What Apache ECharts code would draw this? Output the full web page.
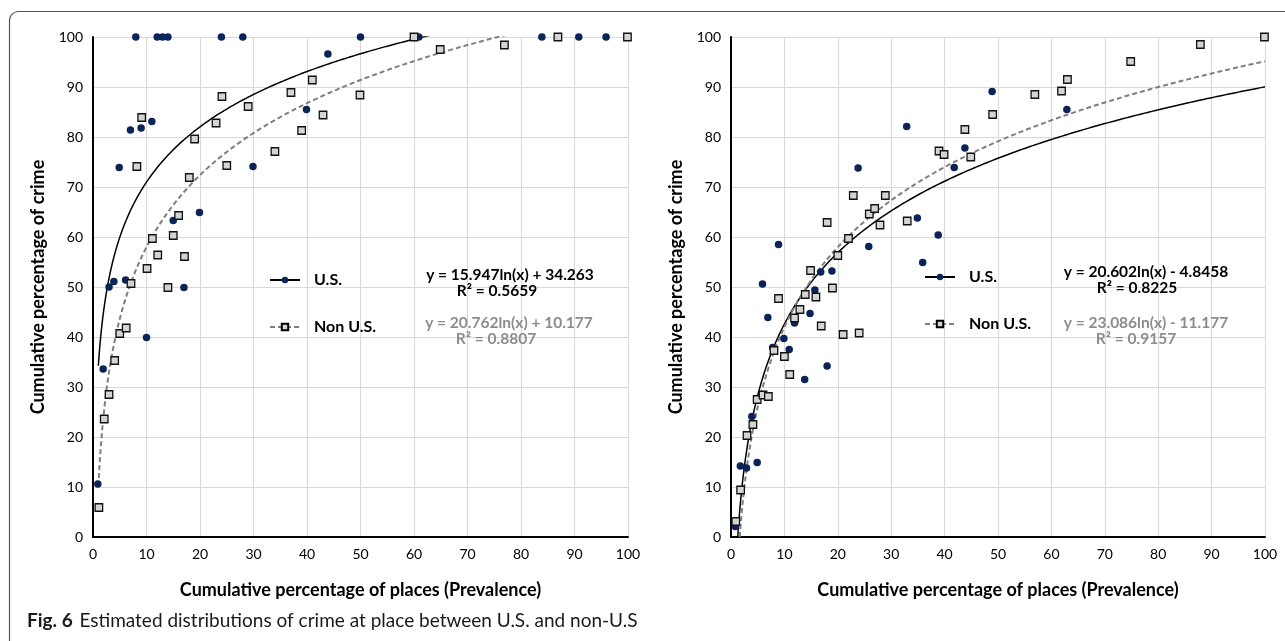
<!DOCTYPE html>
<html><head><meta charset="utf-8">
<script src="https://cdn.jsdelivr.net/npm/echarts@6/dist/echarts.min.js"></script>
<style>html,body{margin:0;padding:0;background:#fff}#c{width:1285px;height:641px}</style>
</head><body><div id="c"></div>
<script>
// ---- tick labels ----
const xTickLabels = ['0','10','20','30','40','50','60','70','80','90','100'];
const yTickLabels = ['0','10','20','30','40','50','60','70','80','90','100'];

// ---- Left panel: U.S. points ----
const leftUsX = [0.9,1.9,3.0,3.9,4.9,6.1,7.0,8.0,9.0,10.0,11.0,12.0,13.0,14.0,15.0,17.0,19.9,24.0,28.0,29.9,39.9,43.9,50.0,60.9,83.9,90.8,95.9];
const leftUsY = [10.6,33.6,50.0,51.1,73.9,51.4,81.4,100,81.8,39.9,83.1,100,100,100,63.3,49.9,64.9,100,100,74.1,85.5,96.6,100,100,100,100,100];
// ---- Left panel: Non U.S. points ----
const leftNonX = [1.1,2.1,3.0,4.05,5.0,6.2,7.1,8.2,9.1,10.1,11.1,12.1,14.0,15.0,16.0,17.1,18.0,19.0,23.0,24.1,25.0,29.0,34.0,37.0,39.0,41.0,43.0,49.9,60.0,64.9,76.9,86.9,99.9];
const leftNonY = [5.9,23.6,28.5,35.3,40.7,41.8,50.7,74.1,83.9,53.7,59.7,56.4,49.9,60.3,64.3,56.1,71.9,79.6,82.8,88.1,74.3,86.1,77.1,88.9,81.3,91.4,84.4,88.4,100,97.5,98.4,100,100];

// ---- Right panel: U.S. points ----
const rightUsX = [0.8,1.75,2.9,3.9,4.9,5.9,6.9,7.8,8.9,9.9,10.9,11.9,13.8,14.8,15.7,16.8,18.0,18.9,23.8,25.8,32.9,34.9,35.9,38.8,41.8,43.8,48.9,62.9];
const rightUsY = [2.1,14.2,13.8,24.1,14.9,50.6,43.9,37.9,58.5,39.7,37.5,42.8,31.5,44.7,49.4,53.0,34.2,53.2,73.8,58.1,82.1,63.8,54.9,60.4,73.9,77.8,89.1,85.5];
// ---- Right panel: Non U.S. points ----
const rightNonX = [0.9,1.8,3.0,4.1,4.9,6.0,7.0,8.05,8.9,10.0,11.0,11.9,12.9,13.9,14.9,15.9,16.9,18.0,19.0,20.0,21.0,22.0,22.9,24.0,25.9,26.9,27.9,28.9,33.0,38.95,39.9,43.8,44.9,49.0,56.9,61.9,63.0,74.85,87.9,99.9];
const rightNonY = [3.1,9.4,20.3,22.5,27.5,28.4,28.1,37.3,47.7,36.1,32.5,43.8,45.5,48.5,53.3,48.0,42.2,62.9,49.8,56.3,40.5,59.7,68.3,40.8,64.6,65.7,62.4,68.3,63.2,77.2,76.5,81.5,76.0,84.5,88.5,89.2,91.5,95.1,98.5,100];

// ---- Logarithmic trendline coefficients [slope, intercept] and labels ----
const leftUsFit = [15.947, 34.263];
const leftNonFit = [20.762, 10.177];
const rightUsFit = [20.602, -4.8458];
const rightNonFit = [23.086, -11.177];
const leftUsEq = ['y = 15.947ln(x) + 34.263', 'R² = 0.5659'];
const leftNonEq = ['y = 20.762ln(x) + 10.177', 'R² = 0.8807'];
const rightUsEq = ['y = 20.602ln(x) - 4.8458', 'R² = 0.8225'];
const rightNonEq = ['y = 23.086ln(x) - 11.177', 'R² = 0.9157'];

const seriesNames = ['U.S.', 'Non U.S.'];
const xAxisTitle = 'Cumulative percentage of places (Prevalence)';
const yAxisTitle = 'Cumulative percentage of crime';
const captionBold = 'Fig. 6';
const captionText = 'Estimated distributions of crime at place between U.S. and non-U.S';

// trendline sample positions along x (1..100)
const trendX = [];
for (let i = 0; i <= 90; i++) trendX.push(1 + i * 0.1);
for (let i = 1; i <= 180; i++) trendX.push(10 + i * 0.5);

const FONT = 'Lato';
const US_COLOR = '#0a2358';
const NON_FILL = '#d4d4d4';

function pairs(xs, ys) { return xs.map((x, i) => [x, ys[i]]); }
function trend(c) { return trendX.map(x => [x, c[0] * Math.log(x) + c[1]]); }

function axesFor(idx) {
  const x = {
    gridIndex: idx, type: 'value', min: 0, max: 100, interval: 10,
    axisLine: { show: true, onZero: false, lineStyle: { color: '#000', width: 2 } },
    axisTick: { show: false },
    splitLine: { show: true, lineStyle: { color: '#d9d9d9', width: 1 } },
    axisLabel: { margin: 10, fontSize: 14, fontFamily: FONT, color: '#000',
      formatter: v => xTickLabels[Math.round(v / 10)] },
    name: xAxisTitle, nameLocation: 'middle', nameGap: 44,
    nameTextStyle: { fontWeight: 'bold', fontSize: 18, fontFamily: FONT, color: '#000' }
  };
  const y = {
    gridIndex: idx, type: 'value', min: 0, max: 100, interval: 10,
    axisLine: { show: true, onZero: false, lineStyle: { color: '#000', width: 2 } },
    axisTick: { show: false },
    splitLine: { show: true, lineStyle: { color: '#d9d9d9', width: 1 } },
    axisLabel: { margin: 10, fontSize: 14, fontFamily: FONT, color: '#000',
      formatter: v => yTickLabels[Math.round(v / 10)] },
    name: yAxisTitle, nameLocation: 'middle', nameGap: 46,
    nameTextStyle: { fontWeight: 'bold', fontSize: 18, fontFamily: FONT, color: '#000' }
  };
  return [x, y];
}

function seriesFor(idx, usFit, nonFit, usX, usY, nonX, nonY) {
  return [
    { name: seriesNames[0], type: 'line', xAxisIndex: idx, yAxisIndex: idx, data: trend(usFit),
      showSymbol: false, symbol: 'circle', smooth: false, clip: true, z: 3,
      itemStyle: { color: US_COLOR },
      lineStyle: { color: '#000', width: 1.5 } },
    { name: seriesNames[1], type: 'line', xAxisIndex: idx, yAxisIndex: idx, data: trend(nonFit),
      showSymbol: false, symbol: 'rect', smooth: false, clip: true, z: 3,
      itemStyle: { color: NON_FILL, borderColor: '#000', borderWidth: 1 },
      lineStyle: { color: '#7f7f7f', width: 2, type: [5, 3] } },
    { name: seriesNames[0], type: 'scatter', xAxisIndex: idx, yAxisIndex: idx, data: pairs(usX, usY),
      symbol: 'circle', symbolSize: 7.5, z: 4, clip: false,
      itemStyle: { color: US_COLOR, opacity: 1 } },
    { name: seriesNames[1], type: 'scatter', xAxisIndex: idx, yAxisIndex: idx, data: pairs(nonX, nonY),
      symbol: 'rect', symbolSize: 7.5, z: 4, clip: false,
      itemStyle: { color: NON_FILL, borderColor: '#111', borderWidth: 1.3, opacity: 1 } }
  ];
}

function legendAt(left, top) {
  return {
    data: seriesNames, orient: 'vertical', left: left, top: top, padding: 0,
    itemWidth: 30, itemHeight: 8, itemGap: 31, selectedMode: false,
    textStyle: { fontFamily: FONT, fontWeight: 'bold', fontSize: 16, color: '#000', padding: [0, 0, 0, 9] }
  };
}

function eqText(x, y, txt, color) {
  return { type: 'text', x: x, y: y, z: 10,
    style: { text: txt, fill: color, font: 'bold 15.5px ' + FONT, textAlign: 'center', textVerticalAlign: 'middle' } };
}

const ax0 = axesFor(0), ax1 = axesFor(1);
const option = {
  animation: false,
  backgroundColor: '#fff',
  grid: [
    { left: 93, top: 37, width: 535, height: 500, containLabel: false },
    { left: 731, top: 37, width: 534, height: 500, containLabel: false }
  ],
  xAxis: [ax0[0], ax1[0]],
  yAxis: [ax0[1], ax1[1]],
  legend: [legendAt(269, 272), legendAt(924, 269)],
  series: [].concat(
    seriesFor(0, leftUsFit, leftNonFit, leftUsX, leftUsY, leftNonX, leftNonY),
    seriesFor(1, rightUsFit, rightNonFit, rightUsX, rightUsY, rightNonX, rightNonY)
  ),
  graphic: [
    { type: 'rect', z: -1, shape: { x: 9.5, y: 11.5, width: 1300, height: 700, r: 9 },
      style: { fill: 'none', stroke: '#555', lineWidth: 1.2 } },
    eqText(510, 275, leftUsEq[0], '#000'),
    eqText(497, 291, leftUsEq[1], '#000'),
    eqText(509, 323, leftNonEq[0], '#8c8c8c'),
    eqText(496, 339, leftNonEq[1], '#8c8c8c'),
    eqText(1146, 272, rightUsEq[0], '#000'),
    eqText(1137, 288, rightUsEq[1], '#000'),
    eqText(1146, 323, rightNonEq[0], '#8c8c8c'),
    eqText(1136, 339, rightNonEq[1], '#8c8c8c'),
    { type: 'text', x: 27, y: 621, z: 10,
      style: { text: '{b|' + captionBold + '}  {n|' + captionText + '}', textVerticalAlign: 'middle',
        rich: { b: { font: 'bold 19px ' + FONT, fill: '#1a1a1a' }, n: { font: '19px ' + FONT, fill: '#1a1a1a' } } } }
  ]
};
const chart = echarts.init(document.getElementById('c'));
chart.setOption(option);
</script>
</body></html>
